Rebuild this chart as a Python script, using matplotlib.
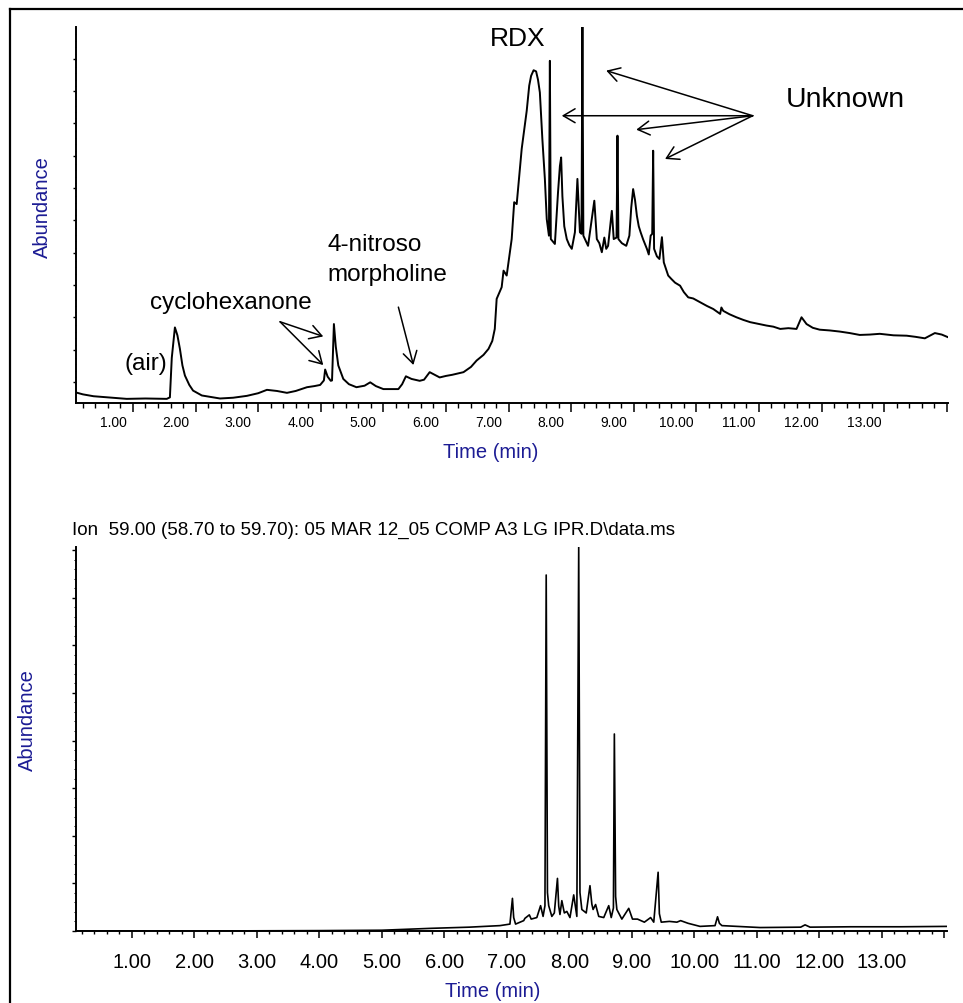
import matplotlib
matplotlib.use('Agg')
import matplotlib.pyplot as plt
from matplotlib.ticker import FixedLocator, MultipleLocator, FuncFormatter
from matplotlib.transforms import ScaledTranslation
from matplotlib.lines import Line2D

plt.rcParams['font.family'] = ['Liberation Sans', 'DejaVu Sans']

W, H, DPI = 963, 1004, 100
NAVY = '#1c1c94'

# total ion chromatogram (time in min, abundance in % of full scale)
tic_time = [0.09, 0.20, 0.37, 0.60, 0.90, 1.20, 1.54, 1.59, 1.62, 1.67, 1.71, 1.75,
            1.79, 1.83, 1.90, 1.96, 2.10, 2.39, 2.60, 2.82, 3.00, 3.14, 3.30, 3.46,
            3.60, 3.78, 3.90, 3.99, 4.05, 4.07, 4.11, 4.16, 4.18, 4.21, 4.24, 4.28,
            4.36, 4.45, 4.57, 4.70, 4.79, 4.88, 5.00, 5.24, 5.30, 5.36, 5.45, 5.58,
            5.65, 5.74, 5.90, 6.00, 6.10, 6.28, 6.40, 6.49, 6.60, 6.68, 6.74, 6.78,
            6.81, 6.89, 6.92, 6.97, 7.05, 7.09, 7.13, 7.21, 7.29, 7.33, 7.36, 7.40,
            7.44, 7.47, 7.50, 7.54, 7.58, 7.61, 7.645, 7.66, 7.675, 7.74, 7.79, 7.82,
            7.84, 7.86, 7.89, 7.93, 7.97, 8.01, 8.06, 8.10, 8.14, 8.165, 8.18, 8.195,
            8.27, 8.33, 8.37, 8.41, 8.45, 8.49, 8.53, 8.56, 8.59, 8.65, 8.68, 8.725,
            8.74, 8.755, 8.81, 8.88, 8.93, 8.96, 8.99, 9.02, 9.05, 9.08, 9.11, 9.15,
            9.21, 9.24, 9.27, 9.295, 9.31, 9.325, 9.37, 9.41, 9.45, 9.48, 9.55, 9.60,
            9.66, 9.74, 9.80, 9.87, 9.95, 10.06, 10.17, 10.27, 10.38, 10.40, 10.43,
            10.53, 10.64, 10.75, 10.86, 11.00, 11.12, 11.23, 11.34, 11.47, 11.60,
            11.68, 11.76, 11.86, 11.97, 12.13, 12.29, 12.45, 12.61, 12.77, 12.93,
            13.15, 13.36, 13.50, 13.65, 13.81, 13.92, 14.02]
tic_abund = [2.8, 2.3, 1.8, 1.5, 1.1, 1.2, 1.1, 1.5, 12.0, 20.1, 18.0, 14.4,
             10.0, 7.3, 4.8, 3.3, 2.0, 1.2, 1.4, 1.9, 2.6, 3.5, 3.2, 2.7,
             3.2, 4.2, 4.5, 4.8, 6.0, 8.9, 7.0, 5.9, 6.0, 21.0, 15.0, 10.0,
             6.4, 5.0, 4.2, 4.6, 5.5, 4.5, 3.7, 3.7, 5.0, 7.1, 6.4, 5.9,
             6.2, 8.2, 6.8, 7.2, 7.5, 8.2, 9.6, 11.3, 12.8, 14.4, 16.5, 19.7,
             27.7, 30.8, 35.2, 33.9, 43.6, 53.4, 52.9, 67.6, 77.7, 84.4, 87.0, 88.5,
             88.2, 86.0, 82.6, 70.2, 59.6, 48.9, 44.5, 91.0, 43.6, 42.3, 56.0, 63.0,
             65.3, 55.0, 47.0, 43.6, 42.0, 41.0, 45.4, 59.6, 45.4, 45.0, 100.0, 44.5,
             41.8, 48.9, 53.8, 43.6, 42.5, 40.1, 44.0, 41.0, 41.8, 51.1, 43.6, 44.0,
             71.1, 43.6, 42.5, 41.8, 44.5, 52.0, 56.9, 54.0, 49.8, 47.0, 45.4, 43.5,
             41.0, 39.5, 44.5, 45.0, 67.1, 41.0, 39.0, 38.3, 44.1, 37.4, 33.9, 33.0,
             32.0, 31.2, 29.5, 28.1, 27.8, 26.8, 25.8, 25.0, 23.7, 25.4, 24.5,
             23.6, 22.8, 22.1, 21.5, 21.0, 20.6, 20.3, 19.7, 19.9, 19.7,
             22.8, 21.0, 20.0, 19.5, 19.3, 19.0, 18.6, 18.1, 18.2, 18.4,
             18.0, 17.9, 17.6, 17.2, 18.6, 18.2, 17.5]

# extracted ion 59.00
ion_time = [0.11, 2.00, 4.00, 5.00, 5.80, 6.40, 6.89, 7.05, 7.09, 7.11, 7.14, 7.27,
            7.29, 7.36, 7.39, 7.48, 7.54, 7.58, 7.61, 7.63, 7.65, 7.67, 7.72, 7.76,
            7.81, 7.83, 7.85, 7.88, 7.92, 7.96, 8.01, 8.07, 8.12, 8.15, 8.17, 8.20,
            8.27, 8.33, 8.36, 8.38, 8.42, 8.47, 8.55, 8.63, 8.67, 8.705, 8.72, 8.74,
            8.76, 8.84, 8.95, 9.01, 9.09, 9.20, 9.30, 9.35, 9.42, 9.44, 9.47, 9.60,
            9.72, 9.78, 9.90, 10.09, 10.33, 10.37, 10.40, 10.44, 11.05, 11.70, 11.77,
            11.85, 12.50, 13.30, 14.04]
ion_abund = [0.0, 0.0, 0.1, 0.2, 0.7, 1.0, 1.4, 1.8, 8.5, 3.5, 1.8, 2.7,
             3.3, 4.2, 3.1, 3.5, 6.6, 3.8, 6.6, 92.7, 10.0, 6.6, 3.8, 4.7,
             13.7, 6.5, 4.3, 7.9, 4.7, 5.1, 3.5, 9.4, 3.8, 100.0, 10.0, 5.6,
             4.7, 11.8, 7.0, 5.6, 6.9, 3.8, 3.5, 6.6, 3.5, 6.0, 51.3, 9.0,
             5.6, 3.1, 5.9, 3.1, 3.1, 2.3, 3.5, 2.3, 15.3, 4.5, 2.3, 2.5,
             2.3, 2.7, 2.0, 1.2, 1.4, 3.7, 2.0, 1.4, 0.9, 1.0, 1.6,
             1.0, 1.1, 1.1, 1.2]

time_ticks = list(range(1, 15))


def box(left, top, right, bottom):
    return [left / W, 1 - bottom / H, (right - left) / W, (bottom - top) / H]


def fig_xy(x, y):
    return x / W, 1 - y / H


def tick_label(v, pos):
    return '%.2f' % v if v < 13.5 else ''


def style_axes(ax, xlim, ymajor, xlen, ylen):
    ax.set_xlim(*xlim)
    ax.set_ylim(0, 100)
    for side in ['top', 'right']:
        ax.spines[side].set_visible(False)
    for side in ['left', 'bottom']:
        ax.spines[side].set_linewidth(1.4)
    ax.xaxis.set_major_locator(FixedLocator(time_ticks))
    ax.xaxis.set_minor_locator(MultipleLocator(0.2))
    ax.xaxis.set_major_formatter(FuncFormatter(tick_label))
    ax.yaxis.set_major_locator(FixedLocator(ymajor))
    step = ymajor[1] - ymajor[0]
    ax.yaxis.set_minor_locator(MultipleLocator(step / 5))
    ax.set_yticklabels([])
    ax.tick_params(axis='x', which='major', direction='out', length=xlen[0], width=1.1)
    ax.tick_params(axis='x', which='minor', direction='out', length=xlen[1], width=1.0)
    ax.tick_params(axis='y', which='major', direction='out', length=ylen[0], width=1.0)
    ax.tick_params(axis='y', which='minor', direction='out', length=ylen[1], width=0.7)


fig = plt.figure(figsize=(W / DPI, H / DPI), dpi=DPI)

# --- total ion chromatogram ---
ax1 = fig.add_axes(box(76, 28, 948, 404))
style_axes(ax1, (0.09, 14.02), [5.6 + 8.6 * k for k in range(12)], (6.5, 3.6), (2.0, 1.0))
ax1.plot(tic_time, tic_abund, color='black', lw=1.4)
ax1.tick_params(axis='x', which='major', labelsize=10, pad=2)
for lab in ax1.get_xticklabels():
    lab.set_family(['Liberation Sans Narrow', 'Liberation Sans'])
for tick in ax1.xaxis.get_major_ticks():
    tick.label1.set_transform(tick.label1.get_transform() +
                              ScaledTranslation(-20 / DPI, 0, fig.dpi_scale_trans))
ax1.set_xlabel('Time (min)', color=NAVY, fontsize=14.5)
ax1.xaxis.set_label_coords(0.476, -0.130)
ax1.xaxis.label.set_va('center')
ax1.set_ylabel('Abundance', color=NAVY, fontsize=14.5)
ax1.yaxis.set_label_coords(-0.038, 0.524)
ax1.yaxis.label.set_va('center')

ax1.text(7.15, 97.0, 'RDX', fontsize=19, ha='center', va='center')
ax1.text(11.43, 80.9, 'Unknown', fontsize=20.5, ha='left', va='center')
ax1.text(1.27, 26.9, 'cyclohexanone', fontsize=17.5, ha='left', va='center')
ax1.text(0.87, 10.6, '(air)', fontsize=17.5, ha='left', va='center')
ax1.text(4.10, 42.3, '4-nitroso', fontsize=17.5, ha='left', va='center')
ax1.text(4.10, 34.3, 'morpholine', fontsize=17.5, ha='left', va='center')

arrow = dict(arrowstyle='->,head_length=0.85,head_width=0.5', color='black',
             lw=1.1, shrinkA=0, shrinkB=0, mutation_scale=10)
for head in [(8.56, 88.4), (7.85, 76.4), (9.04, 72.7), (9.50, 64.9)]:
    ax1.annotate('', xy=head, xytext=(10.90, 76.4), arrowprops=arrow)
for head in [(4.04, 17.7), (4.04, 10.1)]:
    ax1.annotate('', xy=head, xytext=(3.35, 21.6), arrowprops=arrow)
ax1.annotate('', xy=(5.48, 10.1), xytext=(5.24, 25.5), arrowprops=arrow)

# --- extracted ion chromatogram ---
ax2 = fig.add_axes(box(76, 548, 947, 932))
style_axes(ax2, (0.11, 14.04), [12.4 * k for k in range(9)], (5.0, 2.4), (2.6, 1.4))
ax2.plot(ion_time, ion_abund, color='black', lw=1.2)
ax2.tick_params(axis='x', which='major', labelsize=14.5, pad=10)
ax2.set_xlabel('Time (min)', color=NAVY, fontsize=14.5)
ax2.xaxis.set_label_coords(0.478, -0.156)
ax2.xaxis.label.set_va('center')
ax2.set_ylabel('Abundance', color=NAVY, fontsize=14.5)
ax2.yaxis.set_label_coords(-0.056, 0.552)
ax2.yaxis.label.set_va('center')

fig.text(*fig_xy(72, 530), 'Ion  59.00 (58.70 to 59.70): 05 MAR 12_05 COMP A3 LG IPR.D\\data.ms',
         fontsize=13.5, ha='left', va='center')

# frame lines along the top and left edge
fig.add_artist(Line2D([10 / W, 10 / W], [0, 1 - 10 / H], color='black', lw=1.6))
fig.add_artist(Line2D([10 / W, 1], [1 - 10 / H, 1 - 10 / H], color='black', lw=1.6))

fig.savefig('out.png', dpi=DPI, facecolor='white')
